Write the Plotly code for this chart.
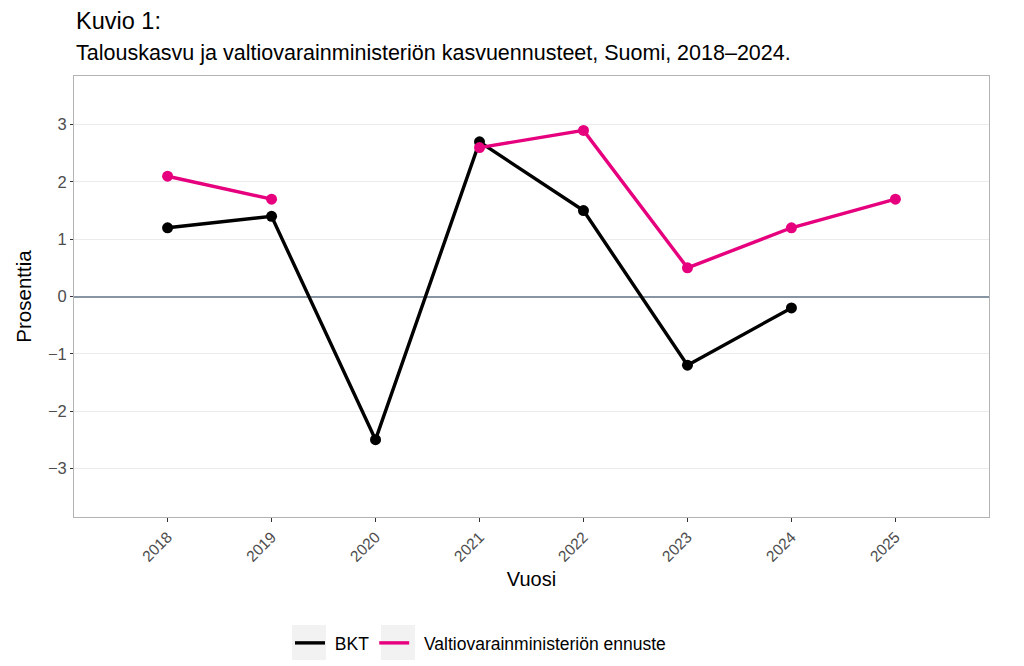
import plotly.graph_objects as go

years = [2018, 2019, 2020, 2021, 2022, 2023, 2024, 2025]
bkt = [1.2, 1.4, -2.5, 2.7, 1.5, -1.2, -0.2, None]
ennuste = [2.1, 1.7, None, 2.6, 2.9, 0.5, 1.2, 1.7]
y_ticks = [-3, -2, -1, 0, 1, 2, 3]
y_ticktext = ["\u22123", "\u22122", "\u22121", "0", "1", "2", "3"]

BLACK = "#000000"
PINK = "#e6007e"
FONT = "Liberation Sans, Arial, sans-serif"

# page body has an 8px margin; compensate so the plot area lands at 74..989 x 76..517
OFF = 8
PL, PT, PW, PH = 74 - OFF, 76 - OFF, 915, 441


def px(sx):
    return (sx - 74) / PW


def py(sy):
    return 1 - (sy - 76) / PH


fig = go.Figure()
fig.add_trace(go.Scatter(x=years, y=bkt, mode="lines+markers",
                         line=dict(color=BLACK, width=3.4),
                         marker=dict(color=BLACK, size=11),
                         connectgaps=False, showlegend=False))
fig.add_trace(go.Scatter(x=years, y=ennuste, mode="lines+markers",
                         line=dict(color=PINK, width=3.4),
                         marker=dict(color=PINK, size=11),
                         connectgaps=False, showlegend=False))
# legend-only entries
fig.add_trace(go.Scatter(x=[None], y=[None], mode="lines", name="\u00a0BKT",
                         line=dict(color=BLACK, width=3.4)))
fig.add_trace(go.Scatter(x=[None], y=[None], mode="lines",
                         name="\u00a0\u00a0Valtiovarainministeriön ennuste",
                         line=dict(color=PINK, width=3.4)))

# grey legend key backgrounds
for x0 in (292, 381):
    fig.add_shape(type="rect", xref="paper", yref="paper",
                  x0=px(x0), x1=px(x0 + 34), y0=py(660), y1=py(625),
                  fillcolor="#f2f2f2", line=dict(width=0), layer="below")

fig.update_layout(
    width=1024, height=666,
    margin=dict(l=PL, r=1024 - PL - PW, t=PT, b=666 - PT - PH),
    paper_bgcolor="white", plot_bgcolor="white",
    font=dict(family=FONT, color="#000000"),
    annotations=[
        dict(text="Kuvio 1:", xref="paper", yref="paper", x=px(74),
             y=py(21), xanchor="left", yanchor="middle",
             showarrow=False, font=dict(size=23.5, color="#000")),
        dict(text="Talouskasvu ja valtiovarainministeriön kasvuennusteet, Suomi, 2018–2024.",
             xref="paper", yref="paper", x=px(74),
             y=py(53), xanchor="left", yanchor="middle",
             showarrow=False, font=dict(size=21.5, color="#000")),
    ],
    legend=dict(orientation="h", xref="container", yref="container",
                x=(290 - OFF) / 1024, xanchor="left",
                y=1 - (643 - OFF) / 666, yanchor="middle",
                font=dict(size=17.5, color="#000"), itemwidth=30,
                bgcolor="rgba(0,0,0,0)"),
)

fig.update_xaxes(
    range=[2017.1, 2025.9], tickvals=years, ticktext=[str(y) for y in years],
    tickangle=-45, showgrid=False, zeroline=False,
    ticks="outside", ticklen=4, tickcolor="#333333", tickwidth=1,
    tickfont=dict(size=15.5, color="#4d4d4d"),
    showline=True, linecolor="#b3b3b3", linewidth=1, mirror=True,
    title=dict(text="Vuosi", font=dict(size=20, color="#000"), standoff=8),
)
fig.update_yaxes(
    range=[-3.85, 3.85], tickvals=y_ticks, ticktext=y_ticktext,
    showgrid=True, gridcolor="#ebebeb", gridwidth=1,
    zeroline=True, zerolinecolor="#8796a2", zerolinewidth=2,
    ticks="outside", ticklen=3, tickcolor="#333333", tickwidth=1,
    tickfont=dict(size=16.5, color="#4d4d4d"),
    showline=True, linecolor="#b3b3b3", linewidth=1, mirror=True,
    title=dict(text="Prosenttia", font=dict(size=20.5, color="#000"), standoff=10),
)

fig.write_html("out.html")
